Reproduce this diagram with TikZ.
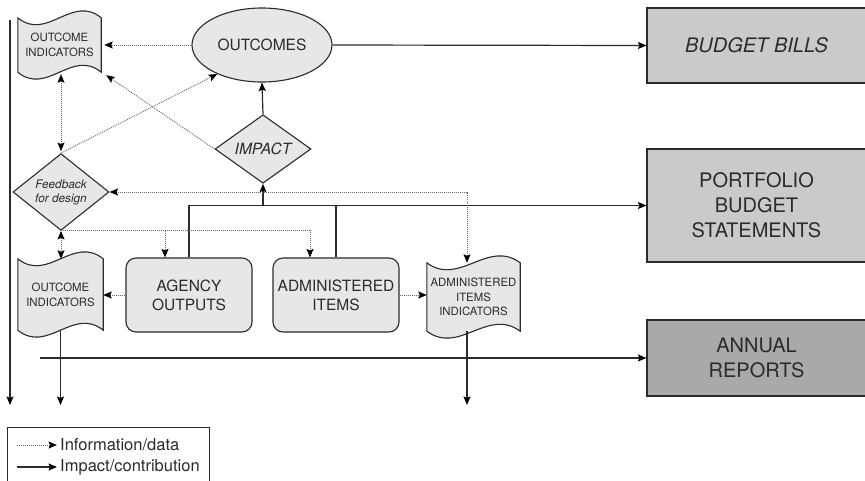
\documentclass[tikz,border=0pt]{standalone}
\usepackage{fontspec}
\setmainfont{TeX Gyre Heros}
\usetikzlibrary{shapes.geometric,arrows.meta,calc,backgrounds}

\definecolor{nodefill}{HTML}{E6E7E8}
\definecolor{docfill}{HTML}{C9CACB}
\definecolor{reportfill}{HTML}{A8A9AB}
\definecolor{ink}{HTML}{2B2B2B}
\definecolor{dotink}{HTML}{6A6A6A}

\newcommand\bigtxt{\fontsize{15.5}{19}\selectfont}
\newcommand\smalltxt{\fontsize{11.4}{14.8}\selectfont}
\newcommand\fbtxt{\fontsize{11.8}{14}\selectfont}
\newcommand\reptxt{\fontsize{20}{25}\selectfont}
\newcommand\legtxt{\fontsize{16.5}{19}\selectfont}

% punched-tape outline drawn around a named node
\newcommand\wavedoc[1]{%
  \path[draw=ink, line width=1.1pt, fill=nodefill]
    (#1.north west)
      .. controls ($(#1.north west)!0.35!(#1.north east)+(0,24)$)
              and ($(#1.north west)!0.65!(#1.north east)+(0,-24)$) .. (#1.north east)
    -- (#1.south east)
      .. controls ($(#1.south west)!0.65!(#1.south east)+(0,-24)$)
              and ($(#1.south west)!0.35!(#1.south east)+(0,24)$) .. (#1.south west)
    -- cycle;}

\tikzset{
  itip/.tip={Stealth[length=8.5pt,width=7pt,inset=1.5pt,color=black]},
  blob/.style={draw=ink, line width=1.1pt, fill=nodefill, text=ink},
  choice/.style={diamond, blob, inner sep=0pt, minimum width=96pt, minimum height=58pt, align=center},
  unit/.style={rectangle, rounded corners=10pt, blob, minimum width=126pt, minimum height=74pt,
    inner sep=2pt, align=center, font=\bigtxt},
  doc/.style={rectangle, inner sep=2pt, align=center, text=ink, font=\smalltxt},
  report/.style={rectangle, draw=ink, line width=1.2pt, minimum width=219pt, inner sep=2pt,
    align=center, text=ink, font=\reptxt},
  imp/.style={draw=ink, line width=1.2pt, -itip},
  impline/.style={draw=ink, line width=1.2pt},
  info/.style={draw=dotink, line width=0.9pt, dash pattern=on 1pt off 1pt, -itip},
  infoboth/.style={draw=dotink, line width=0.9pt, dash pattern=on 1pt off 1pt, itip-itip},
}

\begin{document}
\begin{tikzpicture}[x=1pt,y=-1pt]
\useasboundingbox (0,0) rectangle (865,480);
\clip (0,0) rectangle (865,480);

% central chain
\node[ellipse, blob, minimum width=140pt, minimum height=74pt, inner sep=0pt, font=\bigtxt]
  (outcomes) at (262,45) {OUTCOMES};
\node[choice, font=\itshape\bigtxt] (impact) at (263,149) {IMPACT};
\node[choice, font=\itshape\fbtxt] (feedback) at (61,192) {Feedback\\for design};

% indicators and outputs
\node[doc, minimum width=83pt, minimum height=54pt] (oi1) at (59.5,45) {OUTCOME\\INDICATORS};
\node[doc, minimum width=85pt, minimum height=71pt] (oi2) at (60.5,294.5) {OUTCOME\\INDICATORS};
\node[unit] (agency) at (189,295) {AGENCY\\OUTPUTS};
\node[unit] (admin) at (336,295) {ADMINISTERED\\ITEMS};
\node[doc, minimum width=93pt, minimum height=68pt] (aii) at (473.5,297)
  {ADMINISTERED\\ITEMS\\INDICATORS};

% publications
\node[report, fill=docfill, minimum height=75pt, font=\itshape\reptxt] (bills) at (756.5,45.5) {BUDGET BILLS};
\node[report, fill=docfill, minimum height=113pt] (pbs) at (756.5,205.5) {PORTFOLIO\\BUDGET\\STATEMENTS};
\node[report, fill=reportfill, minimum height=76pt] (annual) at (756.5,358) {ANNUAL\\REPORTS};

\begin{pgfonlayer}{background}
  \wavedoc{oi1}
  \wavedoc{oi2}
  \wavedoc{aii}
\end{pgfonlayer}

% free ends of connectors
\coordinate (floor) at (0,405);
\coordinate (railtop) at (10,20);
\coordinate (arin) at (40,358);

% impact / contribution
\draw[imp] (railtop) -- (railtop |- floor);
\draw[imp] (outcomes.east) -- (bills.west);
\draw[imp] (impact.north) -- (outcomes.south);
\draw[imp] (agency.north) |- (pbs.west);
\draw[impline] (admin.north) -- (admin.north |- pbs.west);
\draw[imp] (impact.south |- pbs.west) -- (impact.south);
\draw[imp] (arin) -- (annual.west);
\draw[imp] (oi2.south) -- (oi2.south |- floor);
\draw[imp] ([xshift=-6.5pt]aii.south) -- ([xshift=-6.5pt]aii.south |- floor);

% information / data
\draw[info, shorten >=3pt] (outcomes.west) -- (oi1.east |- outcomes.west);
\draw[info] (impact.west) -- ([shift={(5,3)}]oi1.south east);
\draw[info] (feedback.north) -- (outcomes.213);
\draw[infoboth, shorten <=2pt, shorten >=2pt] (feedback.north |- oi1.south) -- (feedback.north);
\draw[infoboth] (feedback.south) -- (oi2.north -| feedback.south);
\draw[info] (feedback.south) -| ([xshift=-26pt]admin.north);
\draw[info] ([xshift=-24pt]agency.north |- feedback.south) -- ([xshift=-24pt]agency.north);
\draw[infoboth] (feedback.east) -| ([xshift=-6.5pt]aii.north);
\draw[info] (agency.west) -- (oi2.east |- agency.west);
\draw[info] (admin.east) -- (aii.west |- admin.east);

% key
\node[draw=ink, line width=0.8pt, minimum width=202pt, minimum height=56pt, inner sep=0pt,
  anchor=north west] (legend) at (7,427) {};
\node[anchor=west, inner sep=3pt, text=ink, font=\legtxt] (leginfo) at (57,445) {Information/data};
\node[anchor=west, inner sep=3pt, text=ink, font=\legtxt] (legimp) at (57,467) {Impact/contribution};
\coordinate (k1) at (17,445);
\coordinate (k2) at (17,467);
\draw[info] (k1) -- (leginfo.west);
\draw[imp] (k2) -- (legimp.west);
\end{tikzpicture}
\end{document}
